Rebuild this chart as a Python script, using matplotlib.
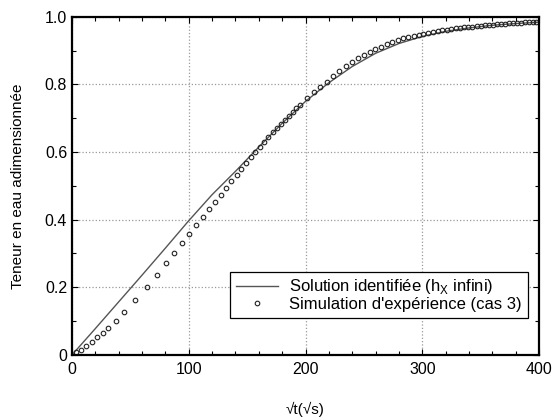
import numpy as np
import matplotlib.pyplot as plt
from matplotlib.ticker import MultipleLocator

plt.rcParams['font.family'] = ['Liberation Sans', 'DejaVu Sans']

# solution identifiee (h_x infini)
sol_x = [0, 20, 40, 60, 80, 100, 120, 140, 160, 180, 200, 220, 240, 260, 280,
         300, 320, 340, 360, 380, 400]
sol_y = [0, 0.078, 0.157, 0.236, 0.316, 0.397, 0.474, 0.543, 0.615, 0.685,
         0.750, 0.805, 0.853, 0.892, 0.921, 0.942, 0.957, 0.967, 0.975, 0.980, 0.984]

# simulation d'experience (cas 3)
sim_x = [3.4, 7.7, 12.0, 16.9, 21.7, 26.3, 31.1, 37.3, 44.8, 53.7, 63.9, 72.8,
         80.5, 87.6, 94.5, 100.5, 106.4, 112.0, 117.4, 122.5, 127.4, 131.9,
         136.4, 141.0, 145.0, 149.0, 153.0, 157.0, 160.7, 164.4, 168.1, 171.9,
         175.3, 178.7, 182.2, 185.6, 189.0, 192.1, 195.0, 201.3, 207.0, 212.7,
         218.2, 223.5, 228.9, 234.4, 239.6, 244.7, 249.8, 254.8, 259.8, 264.7,
         269.5, 274.2, 278.9, 283.5, 288.0, 292.5, 296.8, 301.0, 305.2, 309.3,
         313.3, 317.2, 321.0, 324.8, 328.5, 332.2, 335.8, 339.4, 343.0, 346.5,
         350.0, 353.5, 357.0, 360.4, 363.8, 367.2, 370.6, 374.0, 377.4, 380.8,
         384.2, 387.6, 391.0, 394.4, 397.8]
sim_y = [0.008, 0.015, 0.025, 0.038, 0.053, 0.066, 0.081, 0.101, 0.128, 0.163,
         0.201, 0.237, 0.271, 0.302, 0.331, 0.359, 0.385, 0.408, 0.432, 0.453,
         0.474, 0.495, 0.515, 0.533, 0.551, 0.568, 0.584, 0.600, 0.615, 0.630,
         0.644, 0.658, 0.670, 0.682, 0.695, 0.707, 0.719, 0.729, 0.739, 0.759,
         0.777, 0.793, 0.808, 0.825, 0.840, 0.854, 0.867, 0.878, 0.888, 0.897,
         0.905, 0.912, 0.919, 0.925, 0.931, 0.936, 0.940, 0.944, 0.947, 0.950,
         0.953, 0.955, 0.958, 0.960, 0.962, 0.964, 0.966, 0.967, 0.969, 0.970,
         0.971, 0.973, 0.974, 0.975, 0.976, 0.977, 0.978, 0.979, 0.980, 0.981,
         0.982, 0.983, 0.983, 0.984, 0.984, 0.985, 0.985]

x_ticks = [0, 100, 200, 300, 400]
y_ticks = [0, 0.2, 0.4, 0.6, 0.8, 1.0]
y_labels = ['0', '0.2', '0.4', '0.6', '0.8', '1.0']

fig = plt.figure(figsize=(5.54, 4.2), dpi=100)
ax = fig.add_axes([0.130, 0.155, 0.843, 0.805])

ax.plot(sol_x, sol_y, color='#555555', lw=1.0,
        label='Solution identifiée (h$_\\mathregular{X}$ infini)')
ax.plot(sim_x, sim_y, ls='none', marker='o', ms=3.3, mfc='none', mec='#222222',
        mew=0.8, label="Simulation d'expérience (cas 3)")

ax.set_xlim(0, 400)
ax.set_ylim(0, 1.0)
ax.set_xticks(x_ticks)
ax.set_yticks(y_ticks)
ax.set_yticklabels(y_labels)
ax.xaxis.set_minor_locator(MultipleLocator(20))
ax.yaxis.set_minor_locator(MultipleLocator(0.1))
ax.tick_params(which='both', direction='in', top=True, right=True,
               labelsize=11.5, width=0.8, colors='black')
ax.tick_params(which='major', length=4)
ax.tick_params(which='minor', length=3)
ax.tick_params(axis='x', pad=5)
ax.grid(True, which='major', ls=':', color='#999999', lw=0.9)
for s in ax.spines.values():
    s.set_linewidth(1.6)

ax.set_ylabel('Teneur en eau adimensionnée', fontsize=11, labelpad=14)
ax.set_xlabel('√t(√s)', fontsize=11, labelpad=18)

leg = ax.legend(loc='lower right', bbox_to_anchor=(0.976, 0.109), borderaxespad=0,
                fontsize=12, fancybox=False, framealpha=1, edgecolor='black',
                handlelength=2.5, handletextpad=0.7, borderpad=0.35,
                labelspacing=0.05, numpoints=1)
leg.get_frame().set_linewidth(0.9)

fig.savefig('out.png', dpi=100)
